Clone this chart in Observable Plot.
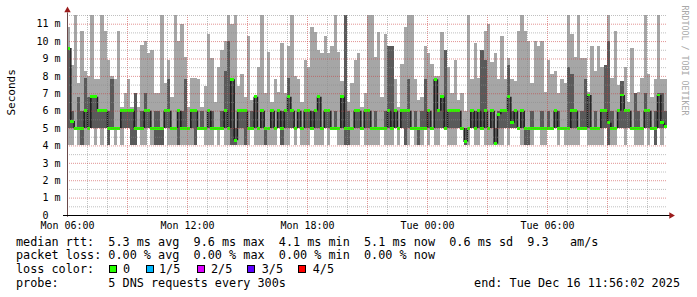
<!DOCTYPE html>
<html><head><meta charset="utf-8">
<script src="https://cdn.jsdelivr.net/npm/d3@7"></script>
<script src="https://cdn.jsdelivr.net/npm/@observablehq/plot@0.6"></script>
<style>
body{margin:0;background:#fff}
#wrap{position:relative;width:697px;height:297px;background:#fff;font-family:"DejaVu Sans Mono",monospace;color:#000;overflow:hidden}
.ln{position:absolute;font-size:11.8px;line-height:14px;white-space:pre}
.sw{position:absolute;width:8px;height:8px;border:1px solid #000;box-sizing:border-box}
</style></head><body><div id="wrap"></div>
<script>
// ---- data (10-minute consolidated samples, Mon 06:00 -> Tue 12:00), values in ms ----
const startTime = Date.UTC(2025, 11, 15, 6, 0);
const endTime = Date.UTC(2025, 11, 16, 12, 0);
const stepMinutes = 10;

const maxRtt = [
10.8,8.6,11.6,7.6,10.6,8.3,8.0,11.6,7.8,7.8,11.6,10.6,8.9,8.0,7.8,10.6,6.2,7.0,7.8,6.2,7.0,6.2,9.8,10.0,9.3,9.5,7.0,7.0,11.6,7.6,
8.9,6.8,11.6,10.0,11.0,9.1,6.2,7.9,7.9,7.8,6.2,7.4,10.4,9.0,6.5,8.5,9.5,10.0,11.6,11.0,11.6,7.4,8.1,6.8,10.3,6.6,6.8,8.5,11.6,7.0,
9.4,6.5,7.8,7.1,9.9,7.0,9.7,11.6,8.0,7.8,6.5,8.9,8.5,10.8,10.5,9.5,9.3,10.3,9.3,9.7,11.6,9.4,7.7,11.6,6.5,7.6,8.9,9.3,6.2,7.0,
11.6,11.6,9.1,10.5,6.8,10.4,9.7,9.7,7.8,6.2,8.7,10.8,11.6,11.6,7.8,6.6,6.8,9.7,9.3,8.7,8.0,8.0,10.5,9.5,8.5,7.0,8.9,6.6,7.0,6.0,
11.6,7.8,9.9,7.9,9.5,10.6,11.0,8.8,9.3,7.8,10.3,7.8,9.0,7.8,7.7,10.6,11.6,10.6,10.0,7.6,10.0,9.7,10.0,7.1,8.9,8.1,8.3,7.0,7.8,7.6,
11.6,10.4,9.1,11.6,9.0,9.0,7.1,9.7,8.3,9.7,8.5,8.6,11.6,7.9,10.6,7.5,7.7,8.5,6.5,9.6,7.0,7.1,7.9,11.6,8.1,6.8,7.8,11.6,7.8,7.8];

const innerHigh = [
9.6,6,5,6.8,6,7.9,6.8,6.8,6.8,6,6,6,6,7.8,5,5,6,6,6,6,7.0,5,6,7.0,6,5,6,6,5,6,
7.8,5,5,6,6,7.8,5,6,6,5,6,5,6,6,5,5,6,8.3,10.0,7.8,5,6,6,6,5,6,6.8,5,6,5,
5,6,5,6,6,6,7.9,6,5,6,5,6,6,6,6,6.8,5,6,6,5,6,5,6.8,11.6,6,5,6,6,5,6,
6,5,6,5,5,6,9.7,9.7,6,5,6,6,7.8,5,6,5,6,7.8,6,5,7.8,6,6.8,9.5,6,6,6,6,5,5,
5,6,6,6,9.5,8.9,5,6,5,6,6,6,8.6,6,6,5,6,5,5,6,5,5,6,5,6,5,6,6,5,5,
8.5,8.1,6,5,6,7.8,6.9,5,6,5,6,8.6,10.0,6,5,6,7.7,6,6,5,7.0,6,5,7.0,6,5,6,7.0,7.0,6];

const medianRtt = [
9.6,5.4,5,5,5,6,5,6.8,6.8,6,6,6,5,5,5,5,6,6,6,6,5,5,5,6,6,5,5,5,5,6,
6,5,5,6,5,5,5,6,6,5,5,5,6,5,5,5,5,6,5,7.8,4.3,6,6,6,5,5,6.8,5,6,5,
5,6,5,6,5,6,6.8,6,5,6,5,6,6,5,6,6.8,5,6,6,5,5,5,6.8,5,5,5,6,6,5,6,
6,5,5,5,5,5,6,5,6,5,6,6,6,5,5,5,5,5,6,5,7.8,6,6.8,5,6,6,6,6,5,4.2,
5,6,5,6,5,6,5,6,4.1,5.8,6,6,6.8,5.3,6,5,6,5,5,5,5,5,5,5,5,5,6,5,5,5,
5,6,6,5,5,5,6.9,5,5,5,6,6,5.3,5,5,6,6.9,6,6,5,5,5,5,6,6,5,5,6.9,5.3,5.1];

const innerLow = [
5,5,5,5,4,5,5,5,5,5,5,5,4,5,5,5,5,5,5,4,4,5,5,5,5,5,4,4,4,5,
5,5,5,4,5,5,5,5,4,5,5,5,5,5,5,5,5,5,5,4,4,5,5,4,5,5,5,5,5,4,
5,5,5,5,4,5,5,5,5,5,5,5,5,5,5,5,5,5,5,5,5,5,5,4,4,5,5,5,5,5,
5,5,5,5,5,5,5,5,5,5,5,4,5,5,5,4,5,5,5,5,5,5,5,5,5,5,5,5,5,4,
5,5,5,5,5,5,5,5,4,5,5,5,5,5,5,5,5,4,4,5,5,5,5,5,5,5,5,5,5,5,
5,5,5,5,5,5,5,5,5,5,5,5,4,5,5,5,5,5,5,5,5,5,5,5,5,5,4,5,5,5];

const minRtt = [
4,4,5,4,4,4,4,5,4,5,4,5,4,5,4,5,4,5,5,4,4,5,4,4,5,4,4,4,4,5,
4,4,4,4,4,4,4,4,4,5,5,4,4,4,5,4,5,4,4,4,4,4,4,4,4,5,4,4,4,4,
4,4,4,5,4,4,4,5,4,5,4,4,4,5,4,4,4,5,4,5,5,4,4,4,4,4,4,4,5,4,
4,4,4,4,5,4,4,4,5,4,5,4,4,5,4,4,4,5,4,5,4,4,5,5,4,4,4,5,5,4,
4,5,4,4,5,4,4,4,4,4,4,5,4,5,5,5,4,4,4,4,5,5,4,4,5,5,5,4,5,4,
4,4,4,4,5,5,4,4,4,4,4,5,4,4,4,5,5,4,5,5,4,4,4,5,4,5,4,5,4,5];

const yTicks = [0,1,2,3,4,5,6,7,8,9,10,11];
const yHalfTicks = [0.5,1.5,2.5,3.5,4.5,5.5,6.5,7.5,8.5,9.5,10.5,11.5];
const xLabelHours = [0, 6, 12, 18, 24]; // hours after start: Mon 06:00 .. Tue 06:00

const statsLines = [
  "median rtt:  5.3 ms avg  9.6 ms max  4.1 ms min  5.1 ms now  0.6 ms sd  9.3   am/s",
  "packet loss: 0.00 % avg  0.00 % max  0.00 % min  0.00 % now",
  "loss color:",
  "probe:       5 DNS requests every 300s"
];
const lossLabels = ["0", "1/5", "2/5", "3/5", "4/5"];
const lossColors = ["#26ff00", "#00b8ff", "#dd00ff", "#5e00ff", "#ff0000"];
const endLabel = "end: Tue Dec 16 11:56:02 2025";

// ---- build ----
const start = new Date(startTime), end = new Date(endTime);
const rows = medianRtt.map((m, i) => ({
  t0: d3.utcMinute.offset(start, i * stepMinutes),
  t1: d3.utcMinute.offset(start, (i + 1) * stepMinutes),
  lo: minRtt[i], q1: innerLow[i], med: m, q3: innerHigh[i], hi: maxRtt[i],
  prev: i > 0 ? medianRtt[i - 1] : m
}));
const steps = rows.filter(r => r.prev !== r.med);
const hours = d3.utcHour.range(d3.utcHour.offset(start, 1), end);
const majorHours = hours.filter(h => ((h - start) / 3600000) % 3 === 0);
const minorHours = hours.filter(h => ((h - start) / 3600000) % 3 !== 0);
const labelDates = xLabelHours.map(h => d3.utcHour.offset(start, h));
const fmt = d3.utcFormat("%a %H:%M");

const chart = Plot.plot({
  width: 697, height: 232,
  marginLeft: 67, marginRight: 30, marginTop: 15, marginBottom: 17,
  style: {fontFamily: "DejaVu Sans Mono", fontSize: "10px", background: "#fff", color: "#000", overflow: "visible"},
  x: {type: "utc", domain: [start, end]},
  y: {domain: [0, 11.5]},
  marks: [
    Plot.rect(rows, {x1: "t0", x2: "t1", y1: "lo", y2: "hi", fill: "#a6a6a6", shapeRendering: "crispEdges", clip: true}),
    Plot.rect(rows, {x1: "t0", x2: "t1", y1: "q1", y2: "q3", fill: "#5a5a5a", shapeRendering: "crispEdges", clip: true}),
    Plot.ruleX(steps, {x: "t0", y1: "prev", y2: "med", stroke: "#1c1c1c", strokeWidth: 1.5, clip: true}),
    Plot.rect(rows, {x1: "t0", x2: "t1", y1: d => d.med - 0.085, y2: d => d.med + 0.085, fill: lossColors[0], shapeRendering: "crispEdges", clip: true}),
    Plot.ruleX(minorHours, {stroke: "#8c8c8c", strokeOpacity: 0.55, strokeDasharray: "1,1"}),
    Plot.ruleX(majorHours, {stroke: "#c83c3c", strokeOpacity: 0.55, strokeDasharray: "1,1"}),
    Plot.ruleY(yHalfTicks, {stroke: "#8c8c8c", strokeOpacity: 0.55, strokeDasharray: "1,1"}),
    Plot.ruleY(yTicks.filter(v => v > 0), {stroke: "#c83c3c", strokeOpacity: 0.55, strokeDasharray: "1,1"}),
    Plot.ruleX([start], {y1: -0.1, y2: 11.65, stroke: "#6a4a4a"}),
    Plot.ruleY([0], {x1: () => d3.utcMinute.offset(start, -12), x2: () => d3.utcMinute.offset(end, 15), stroke: "#000"}),
    Plot.dot([0], {x: () => start, y: () => 11.8, symbol: "triangle", r: 2.4, fill: "#9b1b1b", stroke: "none"}),
    Plot.dot([0], {x: () => d3.utcMinute.offset(end, 11), y: () => 0, symbol: "triangle", r: 2.4, rotate: 90, fill: "#9b1b1b", stroke: "none"}),
    Plot.axisY({ticks: yTicks, tickSize: 0, tickPadding: 7, fontSize: 10,
      tickFormat: d => d === 0 ? "0\u00a0\u00a0" : d + " m"}),
    Plot.axisX({ticks: labelDates, tickSize: 0, tickPadding: 6, fontSize: 10, tickFormat: fmt, label: null}),
    Plot.text(["Seconds"], {frameAnchor: "left", dx: -56, rotate: -90, fontSize: 11, fill: "#000"}),
    Plot.text(["RRDTOOL / TOBI OETIKER"], {frameAnchor: "top-right", dx: 20.5, dy: -10, rotate: 90, textAnchor: "start", fontSize: 8.3, fill: "#a8a8a8"})
  ]
});
chart.style.position = "absolute";
chart.style.left = "0px";
chart.style.top = "0px";
const wrap = document.getElementById("wrap");
wrap.appendChild(chart);

const tops = [234.6, 248.3, 262.0, 275.7];
statsLines.forEach((s, i) => {
  const d = document.createElement("div");
  d.className = "ln";
  d.style.left = "16px";
  d.style.top = tops[i] + "px";
  d.textContent = s;
  wrap.appendChild(d);
});
const swLeft = [108.7, 145.7, 197.3, 247.3, 298.3];
const lbLeft = [123, 159, 211, 261.7, 312.7];
lossColors.forEach((c, i) => {
  const s = document.createElement("div");
  s.className = "sw";
  s.style.left = swLeft[i] + "px";
  s.style.top = "265px";
  s.style.background = c;
  wrap.appendChild(s);
  const t = document.createElement("div");
  t.className = "ln";
  t.style.left = lbLeft[i] + "px";
  t.style.top = tops[2] + "px";
  t.textContent = lossLabels[i];
  wrap.appendChild(t);
});
const e = document.createElement("div");
e.className = "ln";
e.style.right = "17px";
e.style.top = tops[3] + "px";
e.textContent = endLabel;
wrap.appendChild(e);
</script></body></html>
